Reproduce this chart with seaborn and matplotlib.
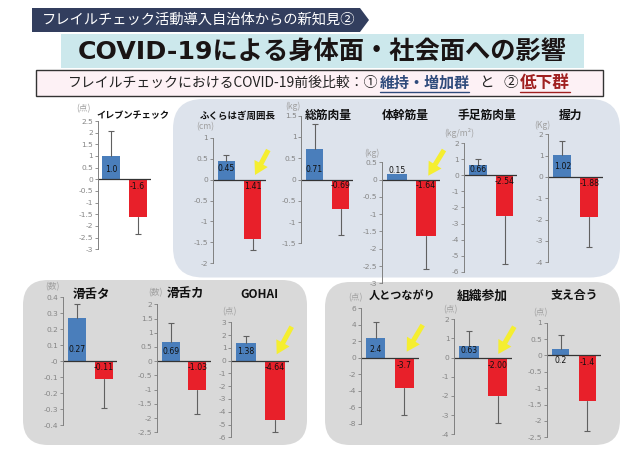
import matplotlib
matplotlib.use("Agg")
import matplotlib.pyplot as plt
from matplotlib.patches import FancyBboxPatch, Polygon, Rectangle, FancyArrow
import numpy as np
import seaborn as sns

groups = ["維持・増加群", "低下群"]

names = ["イレブンチェック", "ふくらはぎ周囲長", "総筋肉量", "体幹筋量", "手足筋肉量", "握力",
         "滑舌タ", "滑舌カ", "GOHAI", "人とつながり", "組織参加", "支え合う"]
units = ["(点)", "(cm)", "(kg)", "(kg)", "(kg/m²)", "(Kg)",
         "(数)", "(数)", "(点)", "(点)", "(点)", "(点)"]
keep_vals = [1.0, 0.45, 0.71, 0.15, 0.66, 1.02, 0.27, 0.69, 1.38, 2.4, 0.63, 0.2]
drop_vals = [-1.6, -1.41, -0.69, -1.64, -2.54, -1.88, -0.11, -1.03, -4.64, -3.7, -2.0, -1.4]
keep_err = [2.05, 0.58, 1.3, 0.15, 1.0, 1.7, 0.36, 1.35, 1.9, 4.3, 1.4, 0.62]
drop_err = [-2.35, -1.68, -1.31, -2.6, -5.5, -3.3, -0.29, -1.87, -5.6, -6.9, -3.4, -2.3]
keep_labels = ["1.0", "0.45", "0.71", "0.15", "0.66", "1.02", "0.27", "0.69", "1.38", "2.4", "0.63", "0.2"]
drop_labels = ["-1.6", "1.41", "-0.69", "-1.64", "-2.54", "-1.88", "-0.11", "-1.03", "-4.64", "-3.7", "-2.00", "-1.4"]
y_min = [-3, -2, -1.5, -3, -6, -4, -0.4, -2.5, -6, -8, -4, -2.5]
y_max = [2.5, 1, 1.5, 0.5, 2, 2, 0.4, 2, 3, 6, 2, 1]
y_step = [0.5, 0.5, 0.5, 0.5, 1, 1, 0.1, 0.5, 1, 2, 1, 0.5]

# layout in picture pixels: axis x, top y, bottom y, blue left, blue right, red left, red right, zero line end
boxes = [
    (97.7, 121, 249.3, 102.3, 120, 129, 146.3, 151),
    (212.7, 137.7, 263.3, 217.7, 235, 244, 261.3, 265.7),
    (301.3, 115.7, 243.3, 305.7, 323.3, 332, 349.3, 353),
    (382, 162.3, 283.3, 387, 406.7, 416, 435.7, 440),
    (463.7, 143.3, 271.7, 469.3, 487, 495.7, 513.3, 517.3),
    (548.3, 134.3, 262.3, 553.3, 571.3, 580.3, 598.3, 602.7),
    (63.3, 297.3, 425.3, 67.7, 85.7, 94.7, 112.7, 116.7),
    (157.3, 304.3, 432.3, 161.7, 179.7, 188.3, 206, 210.7),
    (231.3, 322.3, 437.3, 236.3, 255.7, 265.3, 284.7, 289.3),
    (360.7, 308.3, 423.7, 366, 385, 394.7, 413.7, 419),
    (454.3, 319.3, 434.3, 459.3, 478.7, 488, 507.3, 512),
    (547, 322.7, 437.3, 551.7, 569.3, 578.3, 596.3, 601),
]
title_pos = [(133, 115.7), (237.5, 116), (328.7, 115.7), (405, 115.7), (487, 115.7), (571, 115.7),
             (91.7, 294), (185, 294), (259.2, 294), (401.7, 296), (482.5, 296), (574, 296)]
title_size = [6.6, 6.8, 8.5, 8.5, 8.5, 8.5, 9, 9, 8.5, 8, 9.2, 8.6]
unit_pos = [(83, 109), (205, 126.7), (293, 106.7), (372, 153), (459, 133), (542, 125),
            (52, 287), (155.7, 293), (229, 311.7), (355, 298), (450, 310), (540.7, 312.3)]
keep_label_y = [169, 168.3, 169, 170.7, 169.7, 166.7, 349, 352, 351.3, 349, 350.3, 360.3]
drop_label_y = [186.7, 186.7, 186, 186, 181.7, 183.3, 367.7, 367.7, 367.7, 365.7, 365.7, 362.3]
arrows = [(268.3, 150, 255, 175), (444, 150, 428.3, 175.7), (291.7, 326.7, 276.7, 354.3),
          (422.7, 325, 406.7, 351.7), (514.3, 326.7, 498.3, 354)]

W, H = 640, 453
sns.set_theme(style="white")
plt.rcParams["font.family"] = ["Noto Sans CJK JP", "DejaVu Sans"]

fig = plt.figure(figsize=(W / 100, H / 100), dpi=100)

# background shapes sit under the charts
bg = fig.add_axes([0, 0, 1, 1], zorder=0)
bg.set_xlim(0, W)
bg.set_ylim(H, 0)
bg.axis("off")


def panel(x0, y0, x1, y1, r, color):
    bg.add_patch(FancyBboxPatch((x0 + r, y0 + r), x1 - x0 - 2 * r, y1 - y0 - 2 * r,
                                boxstyle=f"round,pad={r},rounding_size={r}",
                                fc=color, ec="none"))


panel(173, 99, 620, 277.5, 30, "#DDE3EC")
panel(23, 280, 307, 445, 25, "#D9D9D9")
panel(325, 282, 620, 445, 25, "#D9D9D9")

bg.add_patch(Polygon([(32, 8), (360, 8), (369, 20), (360, 32), (32, 32)], fc="#323E5E", ec="none"))
bg.text(42, 20, "フレイルチェック活動導入自治体からの新知見②", color="white", fontsize=10.3,
        va="center", ha="left")
bg.add_patch(Rectangle((61, 34), 523, 34, fc="#CCE8EC", ec="none"))
bg.text(322, 52, "COVID-19による身体面・社会面への影響", color="#1A1414", fontsize=18.2,
        fontweight="bold", va="center", ha="center", family=["DejaVu Sans", "Noto Sans CJK JP"])
bg.add_patch(Rectangle((36, 70), 567, 25.5, fc="#FDF1F5", ec="#333333", lw=1))
bg.text(68, 83, "フレイルチェックにおけるCOVID-19前後比較：①", color="#222222", fontsize=10,
        va="center", ha="left")
bg.text(380, 83, "維持・増加群", color="#2F4B7C", fontsize=10.8, fontweight="bold", va="center", ha="left")
bg.plot([380, 469], [92, 92], color="#2F4B7C", lw=1)
bg.text(486, 83, "と", color="#222222", fontsize=10.5, va="center", ha="center")
bg.text(510.5, 83, "②", color="#222222", fontsize=10.5, va="center", ha="center")
bg.text(520, 83, "低下群", color="#A02020", fontsize=12, fontweight="bold", va="center", ha="left")
bg.plot([520, 570], [92, 92], color="#A02020", lw=1)

for i, name in enumerate(names):
    ax_x, top, bottom, b0, b1, r0, r1, end = boxes[i]
    ax = fig.add_axes([ax_x / W, 1 - bottom / H, (end - ax_x) / W, (bottom - top) / H], zorder=1)
    ax.patch.set_alpha(0)
    c0 = (b0 + b1) / 2
    c1 = (r0 + r1) / 2
    d = c1 - c0
    sns.barplot(x=groups, y=[keep_vals[i], drop_vals[i]], hue=groups,
                palette=["#4A7EBB", "#E8202A"], saturation=1, width=(b1 - b0) / d,
                legend=False, linewidth=0, ax=ax)
    # one sided whiskers, the cap only on the far end
    for pos, val, err in [(0, keep_vals[i], keep_err[i]), (1, drop_vals[i], drop_err[i])]:
        if err != val:
            ax.plot([pos, pos], [val, err], color="#606060", lw=0.8)
            ax.plot([pos], [err], marker="_", ms=4, mew=0.8, color="#606060")
    ax.axhline(0, color="#333333", lw=0.9)
    ax.set_xlim((ax_x - c0) / d, (end - c0) / d)
    ax.set_ylim(y_min[i], y_max[i])
    ticks = np.round(np.arange(y_min[i], y_max[i] + y_step[i] / 2, y_step[i]), 2)
    ax.set_yticks(ticks)
    ax.set_yticklabels([f"{t:g}" for t in ticks], fontsize=5.4, color="#858585",
                       family="DejaVu Sans")
    ax.tick_params(axis="y", left=True, length=2, width=0.6, color="#808080", pad=1.5)
    ax.set_xticks([])
    ax.set_xlabel("")
    ax.set_ylabel("")
    sns.despine(ax=ax, bottom=True)
    ax.spines["left"].set_color("#808080")
    ax.spines["left"].set_linewidth(0.7)

# texts and arrows go above the charts
top_ax = fig.add_axes([0, 0, 1, 1], zorder=2)
top_ax.patch.set_alpha(0)
top_ax.set_xlim(0, W)
top_ax.set_ylim(H, 0)
top_ax.axis("off")

for i, name in enumerate(names):
    ax_x, top, bottom, b0, b1, r0, r1, end = boxes[i]
    top_ax.text(*title_pos[i], name, fontsize=title_size[i], fontweight="bold", color="#111111",
                ha="center", va="center")
    top_ax.text(*unit_pos[i], units[i], fontsize=6.2, color="#A0A0A0", ha="center", va="center")
    top_ax.text((b0 + b1) / 2, keep_label_y[i], keep_labels[i], fontsize=5.6, color="#111111",
                ha="center", va="center", family="DejaVu Sans")
    top_ax.text((r0 + r1) / 2, drop_label_y[i], drop_labels[i], fontsize=5.6, color="#111111",
                ha="center", va="center", family="DejaVu Sans")

for x0, y0, x1, y1 in arrows:
    top_ax.add_patch(FancyArrow(x0, y0, x1 - x0, y1 - y0, width=5, head_width=15, head_length=13,
                                length_includes_head=True, fc="#F5EE30", ec="none"))

fig.savefig("out.png", dpi=100)
